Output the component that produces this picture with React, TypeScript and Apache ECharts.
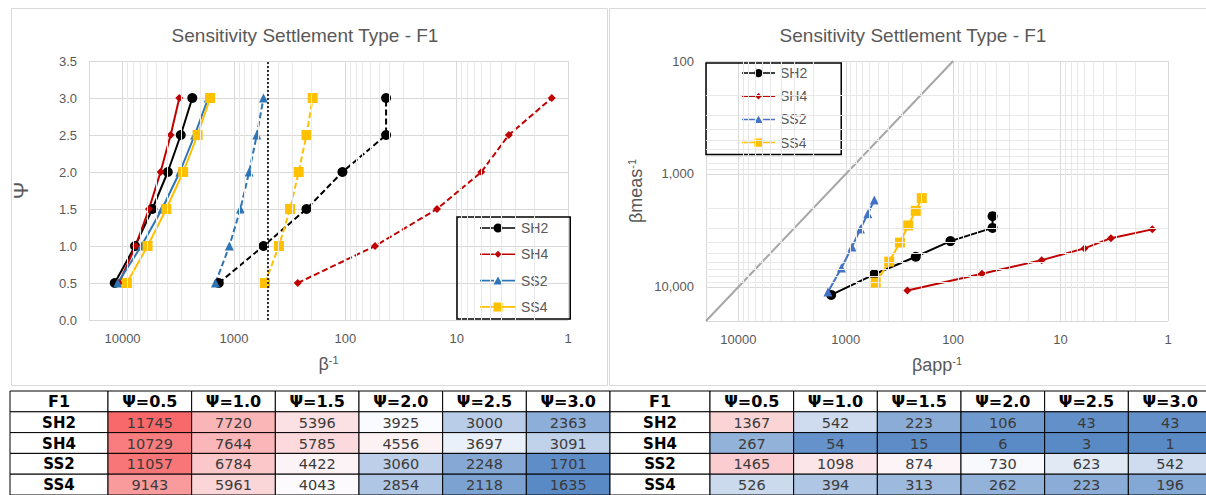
import React, { useEffect, useRef } from 'react';
import * as echarts from 'echarts';

// ---- data ----
const psiLevels = [0.5, 1.0, 1.5, 2.0, 2.5, 3.0];
const seriesNames = ['SH2', 'SH4', 'SS2', 'SS4'];
// β^-1 measured (left table, solid lines left chart, y of right chart)
const measSH2 = [11745, 7720, 5396, 3925, 3000, 2363];
const measSH4 = [10729, 7644, 5785, 4556, 3697, 3091];
const measSS2 = [11057, 6784, 4422, 3060, 2248, 1701];
const measSS4 = [9143, 5961, 4043, 2854, 2118, 1635];
// βapp^-1 (right table, dashed lines left chart, x of right chart)
const appSH2 = [1367, 542, 223, 106, 43, 43];
const appSH4 = [267, 54, 15, 6, 3.4, 1.4];
const appSS2 = [1465, 1098, 874, 730, 623, 542];
const appSS4 = [526, 394, 313, 262, 223, 196];
const thresholdBeta = [500];
const oneToOneEnds = [20000, 100];
const axisMaxBeta = 20000;
const psiTicks = [0, 0.5, 1.0, 1.5, 2.0, 2.5, 3.0, 3.5];

const measAll = [measSH2, measSH4, measSS2, measSS4];
const appAll = [appSH2, appSH4, appSS2, appSS4];

// ---- styles ----
const FONT = 'Liberation Sans';
const TABLE_FONT = 'DejaVu Sans';
const TXT = '#595959';
const leftColors = ['#000000', '#C00000', '#2E75B6', '#FFC000'];
const rightColors = ['#000000', '#C00000', '#4472C4', '#FFC000'];
const symbols = ['circle', 'diamond', 'triangle', 'rect'];
const symbolSizes = [10, 8, 9, 10];
// legend icons: line + marker (36 x 10 box)
const legendIconPaths = [
  'path://M0 4.2H13.5V5.8H0Z M22.5 4.2H36V5.8H22.5Z M13.5 5A4.5 4.5 0 1 0 22.5 5A4.5 4.5 0 1 0 13.5 5Z',
  'path://M0 4.2H14.5V5.8H0Z M21.5 4.2H36V5.8H21.5Z M18 1.5L21.5 5L18 8.5L14.5 5Z M0 0.5H0.01V9.5H0Z',
  'path://M0 4.2H14V5.8H0Z M22 4.2H36V5.8H22Z M18 1L22.5 9L13.5 9Z M0 0.5H0.01V9.5H0Z',
  'path://M0 4.2H13.5V5.8H0Z M22.5 4.2H36V5.8H22.5Z M13.5 0.5H22.5V9.5H13.5Z',
];

function isPow10(v: number) {
  const l = Math.log10(v);
  return Math.abs(l - Math.round(l)) < 1e-6;
}

const minorVals = (decades: number[]) => {
  const out: number[] = [];
  decades.forEach((d) => {
    for (let m = 2; m <= 9; m++) out.push(m * d);
  });
  return out;
};

function hexToRgb(h: string) {
  const n = parseInt(h.slice(1), 16);
  return [(n >> 16) & 255, (n >> 8) & 255, n & 255];
}
function mix(a: string, b: string, t: number) {
  const A = hexToRgb(a), B = hexToRgb(b);
  const c = A.map((x, i) => Math.round(x + (B[i] - x) * t));
  return `rgb(${c[0]},${c[1]},${c[2]})`;
}
const BLUE = '#5A8AC6', WHITE = '#FCFCFF', RED = '#F8696B';
function scaleColor(v: number, min: number, mid: number, max: number) {
  if (v <= mid) return mix(BLUE, WHITE, Math.max(0, (v - min) / (mid - min)));
  return mix(WHITE, RED, Math.min(1, (v - mid) / (max - mid)));
}

export default function App() {
  const ref = useRef<HTMLDivElement>(null);
  useEffect(() => {
    document.body.style.margin = '0';
    const chart = echarts.init(ref.current!, null, { renderer: 'svg' });

    const gridLineColor = '#d9d9d9';
    const minorColor = '#e8e8e8';
    const xMinor = minorVals([1, 10, 100, 1000]);
    const yMinor = minorVals([100, 1000]);

    const logXAxis = (gridIndex: number, nameText: string, gap: number) => ({
      type: 'log',
      logBase: 10,
      gridIndex,
      min: 1,
      max: axisMaxBeta,
      inverse: true,
      axisLine: { show: false },
      axisTick: { show: false },
      splitLine: { show: true, lineStyle: { color: gridLineColor, width: 1 } },
      axisLabel: {
        color: TXT,
        fontSize: 13,
        fontFamily: FONT,
        margin: 12,
        formatter: (v: number) => (isPow10(v) ? String(Math.round(v)) : ''),
      },
      name: nameText,
      nameLocation: 'middle',
      nameGap: gap,
      nameTextStyle: {
        color: TXT,
        fontSize: 18,
        fontFamily: FONT,
        rich: { sup: { fontSize: 11, color: TXT, fontFamily: FONT, padding: [0, 0, 9, 0] } },
      },
    });

    const series: any[] = [];
    // left chart gridlines (minor) & threshold
    series.push({
      type: 'line', xAxisIndex: 0, yAxisIndex: 0, data: [], silent: true, z: 1,
      markLine: {
        silent: true, symbol: ['none', 'none'], label: { show: false }, animation: false,
        lineStyle: { color: minorColor, width: 1, type: 'solid' },
        emphasis: { disabled: true },
        data: xMinor.map((v) => ({ xAxis: v })),
      },
    });
    series.push({
      type: 'line', xAxisIndex: 0, yAxisIndex: 0, data: [], silent: true, z: 4,
      markLine: {
        silent: true, symbol: ['none', 'none'], label: { show: false }, animation: false,
        lineStyle: { color: '#000', width: 1.6, type: [2, 2] },
        emphasis: { disabled: true },
        data: thresholdBeta.map((v) => ({ xAxis: v })),
      },
    });
    for (let i = 0; i < 4; i++) {
      series.push({
        type: 'line', name: seriesNames[i], xAxisIndex: 0, yAxisIndex: 0, z: 3,
        data: measAll[i].map((v, k) => [v, psiLevels[k]]),
        symbol: symbols[i], symbolSize: symbolSizes[i],
        lineStyle: { color: leftColors[i], width: 2 },
        itemStyle: { color: leftColors[i] },
        emphasis: { disabled: true },
      });
    }
    for (let i = 0; i < 4; i++) {
      series.push({
        type: 'line', name: seriesNames[i] + ' app', xAxisIndex: 0, yAxisIndex: 0, z: 3,
        data: appAll[i].map((v, k) => [v, psiLevels[k]]),
        symbol: symbols[i], symbolSize: symbolSizes[i],
        lineStyle: { color: leftColors[i], width: 2, type: [6, 3] },
        itemStyle: { color: leftColors[i] },
        emphasis: { disabled: true },
      });
    }
    // right chart
    series.push({
      type: 'line', xAxisIndex: 1, yAxisIndex: 1, data: [], silent: true, z: 1,
      markLine: {
        silent: true, symbol: ['none', 'none'], label: { show: false }, animation: false,
        lineStyle: { color: minorColor, width: 1, type: 'solid' },
        emphasis: { disabled: true },
        data: [...xMinor.map((v) => ({ xAxis: v })), ...yMinor.map((v) => ({ yAxis: v }))],
      },
    });
    series.push({
      type: 'line', xAxisIndex: 1, yAxisIndex: 1, z: 2, silent: true,
      data: oneToOneEnds.map((v) => [v, v]), symbol: 'none',
      lineStyle: { color: '#a6a6a6', width: 2 },
    });
    for (let i = 0; i < 4; i++) {
      series.push({
        type: 'line', name: seriesNames[i], xAxisIndex: 1, yAxisIndex: 1, z: 3,
        data: appAll[i].map((v, k) => [v, measAll[i][k]]),
        symbol: symbols[i], symbolSize: symbolSizes[i],
        lineStyle: { color: rightColors[i], width: 2, type: 'solid' },
        itemStyle: { color: rightColors[i] },
        emphasis: { disabled: true },
      });
    }

    // tables (custom series on category axes)
    const hdrLabel = { fontWeight: 'bold', fontSize: 16, color: '#000' };
    const rowLabel = { fontWeight: 'bold', fontSize: 15, color: '#000' };
    const valLabel = { fontWeight: 'normal', fontSize: 14.5, color: '#3a3a3a' };
    const table = (xi: number, yi: number, cells: any[]) => ({
      type: 'custom', xAxisIndex: xi, yAxisIndex: yi, silent: true, z: 5,
      data: cells.map((c) => c.value),
      encode: { x: 0, y: 1 },
      renderItem: (params: any, api: any) => {
        const cell = cells[params.dataIndex];
        const ctr = api.coord([api.value(0), api.value(1)]);
        const sz = api.size([1, 1]);
        return {
          type: 'group',
          children: [
            {
              type: 'rect',
              shape: { x: ctr[0] - sz[0] / 2, y: ctr[1] - sz[1] / 2, width: sz[0], height: sz[1] },
              style: { fill: cell.color, stroke: '#000', lineWidth: 1 },
            },
            {
              type: 'text',
              style: {
                text: cell.txt, x: ctr[0], y: ctr[1] + 0.5, align: 'center', verticalAlign: 'middle',
                fontSize: cell.label.fontSize, fontWeight: cell.label.fontWeight,
                fontFamily: TABLE_FONT, fill: cell.label.color,
              },
            },
          ],
        };
      },
    });
    const labelCol = () => [
      { value: [0, 0, 0], txt: 'F1', color: '#fff', label: hdrLabel },
      ...seriesNames.map((n, r) => ({ value: [0, r + 1, 0], txt: n, color: '#fff', label: rowLabel })),
    ];
    const valueCols = (tbl: number[][], mid: number, maxOverride?: number) => {
      const flat = tbl.flat();
      const mn = Math.min(...flat);
      const mx = maxOverride ?? Math.max(...flat);
      const out: any[] = psiLevels.map((p, c) => ({
        value: [c, 0, 0], txt: 'Ψ=' + p.toFixed(1), color: '#fff', label: hdrLabel,
      }));
      tbl.forEach((row, r) =>
        row.forEach((v, c) =>
          out.push({
            value: [c, r + 1, v], txt: String(Math.round(v)),
            color: scaleColor(v, mn, mid, mx), label: valLabel,
          })
        )
      );
      return out;
    };
    series.push(table(2, 2, labelCol()));
    series.push(table(3, 3, valueCols(measAll, 3950)));
    series.push(table(4, 4, labelCol()));
    series.push(table(5, 5, valueCols(appAll, 750, 3000)));

    const catX = (gridIndex: number, data: string[]) => ({ type: 'category', gridIndex, data, show: false });
    const catY = (gridIndex: number) => ({ type: 'category', gridIndex, data: ['hdr', ...seriesNames], inverse: true, show: false });
    const psiCats = psiLevels.map((p) => p.toFixed(1));

    const legendBase = {
      orient: 'vertical',
      borderColor: '#000',
      borderWidth: 1.5,
      itemWidth: 36,
      itemHeight: 10,
      textStyle: { color: TXT, fontSize: 14, fontFamily: FONT },
      selectedMode: false,
    };
    const legendItems = (colors: string[]) =>
      seriesNames.map((n, i) => ({
        name: n,
        icon: legendIconPaths[i],
        itemStyle: { color: colors[i], borderWidth: 0 },
      }));

    const option: any = {
      animation: false,
      textStyle: { fontFamily: FONT },
      title: [
        { text: 'Sensitivity Settlement Type - F1', left: 300, top: 21, textAlign: 'center',
          textStyle: { color: TXT, fontSize: 19, fontWeight: 'normal', fontFamily: FONT } },
        { text: 'Sensitivity Settlement Type - F1', left: 908, top: 21, textAlign: 'center',
          textStyle: { color: TXT, fontSize: 19, fontWeight: 'normal', fontFamily: FONT } },
      ],
      legend: [
        { ...legendBase, left: 457, top: 217, padding: [4, 22, 5, 23], itemGap: 12.3,
          data: legendItems(leftColors) },
        { ...legendBase, left: 706, top: 63, padding: [3, 34, 5, 36], itemGap: 9.2, itemWidth: 33,
          data: legendItems(rightColors) },
      ],
      grid: [
        { left: 89, right: 1206 - 568, top: 61, bottom: 495 - 320, outerBoundsMode: 'none' },
        { left: 706, right: 1206 - 1168, top: 61, bottom: 495 - 321, outerBoundsMode: 'none' },
        { left: 10, width: 98, top: 391, height: 104, outerBoundsMode: 'none' },
        { left: 108, width: 502, top: 391, height: 104, outerBoundsMode: 'none' },
        { left: 610, width: 100, top: 391, height: 104, outerBoundsMode: 'none' },
        { left: 710, width: 502, top: 391, height: 104, outerBoundsMode: 'none' },
      ],
      xAxis: [
        logXAxis(0, 'β{sup|-1}', 34),
        logXAxis(1, 'βapp{sup|-1}', 34),
        catX(2, ['F1']),
        catX(3, psiCats),
        catX(4, ['F1']),
        catX(5, psiCats),
      ],
      yAxis: [
        {
          type: 'value', gridIndex: 0, min: psiTicks[0], max: psiTicks[psiTicks.length - 1], interval: 0.5,
          axisLine: { show: false }, axisTick: { show: false },
          splitLine: { lineStyle: { color: gridLineColor } },
          axisLabel: { color: TXT, fontSize: 13, fontFamily: FONT, margin: 12, formatter: (v: number) => v.toFixed(1) },
          name: 'Ψ', nameLocation: 'middle', nameGap: 58,
          nameTextStyle: { color: TXT, fontSize: 21, fontFamily: FONT },
        },
        {
          type: 'log', logBase: 10, gridIndex: 1, min: 100, max: axisMaxBeta, inverse: true,
          axisLine: { show: false }, axisTick: { show: false },
          splitLine: { lineStyle: { color: gridLineColor } },
          axisLabel: {
            color: TXT, fontSize: 13, fontFamily: FONT, margin: 12,
            formatter: (v: number) => (isPow10(v) ? Math.round(v).toLocaleString('en-US') : ''),
          },
          name: 'βmeas{sup|-1}', nameLocation: 'middle', nameGap: 60,
          nameTextStyle: {
            color: TXT, fontSize: 18, fontFamily: FONT,
            rich: { sup: { fontSize: 11, color: TXT, fontFamily: FONT, padding: [0, 0, 9, 0] } },
          },
        },
        catY(2), catY(3), catY(4), catY(5),
      ],
      graphic: [
        { type: 'rect', shape: { x: 11.5, y: 8.5, width: 596, height: 377 }, style: { fill: 'none', stroke: '#d9d9d9', lineWidth: 1 }, silent: true },
        { type: 'rect', shape: { x: 609.5, y: 8.5, width: 600, height: 377 }, style: { fill: 'none', stroke: '#d9d9d9', lineWidth: 1 }, silent: true },
      ],
      series,
    };
    chart.setOption(option);
    return () => chart.dispose();
  }, []);
  return <div ref={ref} style={{ width: 1206, height: 495, background: '#fff' }} />;
}
